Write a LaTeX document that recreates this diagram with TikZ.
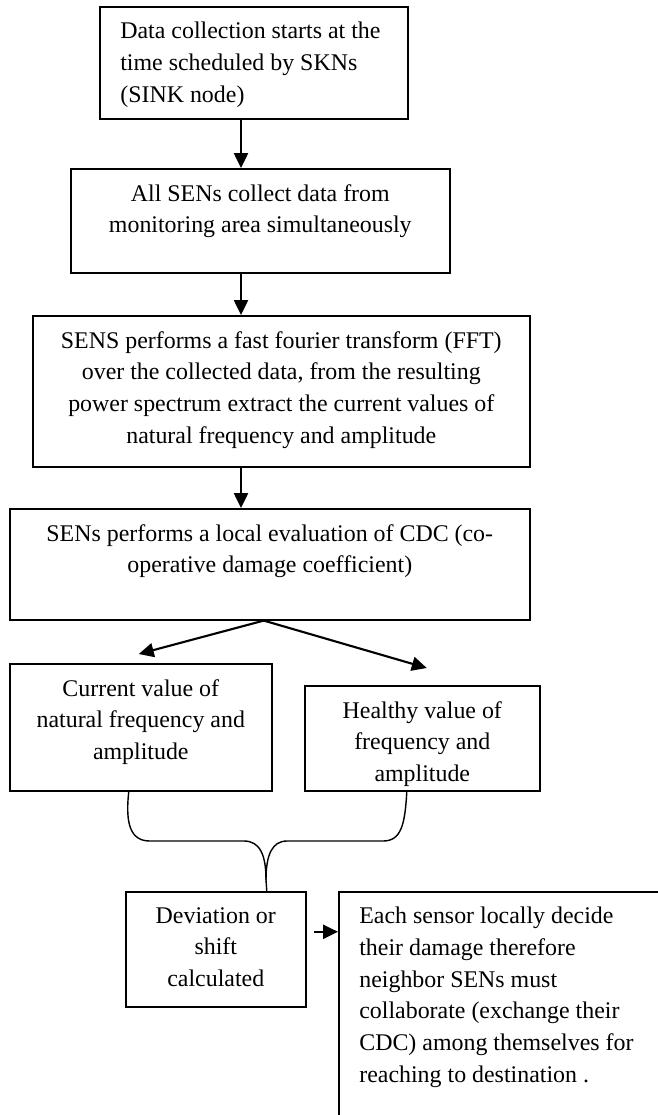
\documentclass[tikz,border=0pt]{standalone}
\usepackage{fontspec}
\setmainfont{Liberation Serif}
\usetikzlibrary{arrows.meta,positioning}

\tikzset{
  stage/.style={draw,line width=0.9pt,inner sep=0pt,anchor=north west},
  stagetext/.style={font=\fontsize{13.6}{18}\selectfont,inner sep=0pt,align=center},
  flow/.style={->,line width=1.2pt},
}

\begin{document}
\begin{tikzpicture}[>={Triangle[length=8.5pt,width=8pt]}]
  \useasboundingbox (0,0) rectangle (13.16,-22.30);
  \clip (0,0) rectangle (13.16,-22.30);
  \coordinate (spine) at (4.82,0);
  % boxes
  \node[stage,minimum width=6.16cm,minimum height=2.24cm] (start) at (1.98,-0.12) {};
  \node[stage,minimum width=7.58cm,minimum height=2.08cm] (collect) at (1.40,-3.36) {};
  \node[stage,minimum width=9.94cm,minimum height=3.02cm] (fft) at (0.64,-6.30) {};
  \node[stage,minimum width=10.40cm,minimum height=2.22cm] (eval) at (0.18,-10.16) {};
  \node[stage,minimum width=5.24cm,minimum height=2.54cm] (cur) at (0.18,-13.26) {};
  \node[stage,minimum width=4.70cm,minimum height=2.10cm] (healthy) at (6.08,-13.70) {};
  \node[stage,minimum width=3.60cm,minimum height=2.30cm] (dev) at (2.50,-17.82) {};
  \node[stage,minimum width=7.00cm,minimum height=6.00cm] (each) at (6.76,-17.82) {};
  % texts
  \node[stagetext,align=left,below right=0.32cm and 0.42cm of start.north west] (starttext)
    {Data collection starts at the\\ time scheduled by SKNs\\ (SINK node)};
  \node[stagetext,below=0.32cm of collect.north] (collecttext)
    {All SENs collect data from\\ monitoring area simultaneously};
  \node[stagetext,below=0.32cm of fft.north] (ffttext)
    {SENS performs a fast fourier transform (FFT)\\ over the collected data, from the resulting\\ power spectrum extract the current values of\\ natural frequency and amplitude};
  \node[stagetext,below=0.32cm of eval.north] (evaltext)
    {SENs performs a local evaluation of CDC (co-\\ operative damage coefficient)};
  \node[stagetext,below=0.32cm of cur.north] (curtext)
    {Current value of\\ natural frequency and\\ amplitude};
  \node[stagetext,below=0.32cm of healthy.north] (healthytext)
    {Healthy value of\\ frequency and\\ amplitude};
  \node[stagetext,below=0.32cm of dev.north] (devtext)
    {Deviation or\\ shift\\ calculated};
  \node[stagetext,align=left,below right=0.32cm and 0.42cm of each.north west] (eachtext)
    {Each sensor locally decide\\ their damage therefore\\ neighbor SENs must\\ collaborate (exchange their\\ CDC) among themselves for\\ reaching to destination .};
  % main flow
  \draw[flow] (start.south -| spine) -- (collect.north -| spine);
  \draw[flow] (collect.south -| spine) -- (fft.north -| spine);
  \draw[flow] (fft.south -| spine) -- (eval.north -| spine);
  % split
  \coordinate (fork) at ([xshift=-0.12cm]eval.south);
  \draw[flow] (fork) -- ([shift={(-0.04,0.18)}]cur.north);
  \draw[flow] (fork) -- ([shift={(0.09,0.34)}]healthy.north);
  % merge
  \coordinate (curout) at ([xshift=-0.24cm]cur.south);
  \coordinate (healout) at ([xshift=-0.31cm]healthy.south);
  \coordinate (merge) at ([xshift=1.02cm]dev.north);
  \draw[line width=0.8pt] (curout) .. controls (2.50,-16.50) and (2.62,-16.82) .. (3.00,-16.82)
    -- (4.88,-16.82) .. controls (5.20,-16.82) and (5.32,-17.10) .. (5.32,-17.60) -- (merge);
  \draw[line width=0.8pt] (healout) .. controls (8.10,-16.50) and (8.02,-16.82) .. (7.66,-16.82)
    -- (5.74,-16.82) .. controls (5.44,-16.82) and (5.32,-17.10) .. (5.32,-17.60);
  % result
  \coordinate (devout) at ([shift={(0.14,0.35)}]dev.east);
  \draw[flow] (devout) -- (devout -| each.west);
\end{tikzpicture}
\end{document}
